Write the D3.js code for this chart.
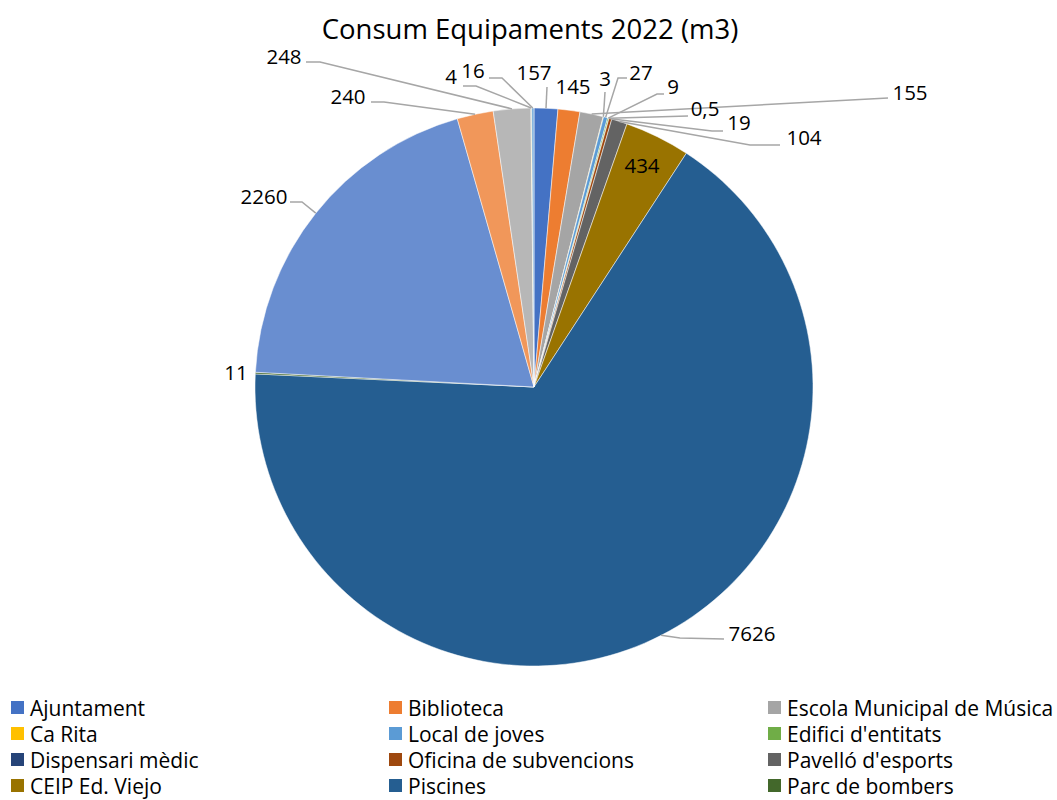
<!DOCTYPE html>
<html><head><meta charset="utf-8">
<script src="https://cdn.jsdelivr.net/npm/d3@7"></script>
<style>body{margin:0;background:#fff}svg{display:block}text{font-family:"Open Sans",sans-serif;fill:#000}</style>
</head><body><svg id="c" width="1057" height="800"></svg>
<script>
const title = "Consum Equipaments 2022 (m3)";
const categories = ["Ajuntament","Biblioteca","Escola Municipal de Música","Ca Rita","Local de joves","Edifici d'entitats","Dispensari mèdic","Oficina de subvencions","Pavelló d'esports","CEIP Ed. Viejo","Piscines","Parc de bombers","Equipament 13","Equipament 14","Equipament 15","Equipament 16","Equipament 17"];
const values = [157,145,155,3,27,9,0.5,19,104,434,7626,11,2260,240,248,4,16];
const colors = ["#4472C4","#ED7D31","#A5A5A5","#FFC000","#5B9BD5","#70AD47","#264478","#9E480E","#636363","#997300","#255E91","#43682B","#698ED0","#F1975A","#B7B7B7","#FFCD33","#7CAFDD"];
// label layout (text centre) and leader anchor/elbow, separate from data
const labelPos = [[534,72],[573,86],[910,92],[605,78],[641,72],[673,86],[705,108],[739,122],[804,137],[642,165],[752,633],[236,372],[264,196],[348,96],[284,56],[451,76],[473,70]];
const leaders = [[547,87,547,87],null,[888,98,888,98],[605,92,605,92],[627,78,618,78],[664,94,657,94],[688,116,688,116],[723,131,712,131],[780,145,750,145],null,[724,639,680,638],null,[290,202,302,202],[371,102,384,102],[306,62,320,62],[463,86,476,86],[489,78,502,78]];

const W = 1057, H = 800;
const svg = d3.select("#c");
const cx = 534, cy = 387, R = 279;
const fmt = d3.formatLocale({decimal:",",thousands:"",grouping:[3],currency:["",""]}).format("~g");

svg.append("text").attr("x",530).attr("y",39).attr("text-anchor","middle").attr("font-size",27.5).text(title);

const pie = d3.pie().sort(null).value(d=>d)(values);
const arc = d3.arc().innerRadius(0).outerRadius(R);
const g = svg.append("g").attr("transform",`translate(${cx},${cy})`);
g.selectAll("path").data(pie).join("path").attr("d",arc).attr("fill",(d,i)=>colors[i]).attr("stroke","#fff").attr("stroke-width",0.5);

// leaders
const lg = svg.append("g");
pie.forEach((d,i)=>{
  const L = leaders[i]; if(!L) return;
  const a = (d.startAngle+d.endAngle)/2;
  const ex = cx + R*Math.sin(a), ey = cy - R*Math.cos(a);
  lg.append("polyline").attr("points",`${L[0]},${L[1]} ${L[2]},${L[3]} ${ex},${ey}`)
    .attr("fill","none").attr("stroke","#A6A6A6").attr("stroke-width",1.5);
});
svg.append("g").selectAll("text").data(pie).join("text")
  .attr("x",(d,i)=>labelPos[i][0]).attr("y",(d,i)=>labelPos[i][1]+7.5)
  .attr("text-anchor","middle").attr("font-size",20.5).text(d=>fmt(d.data));

// legend (rows that start beyond the canvas are not drawn)
const colX = [11,389,768];
const lgd = svg.append("g");
categories.forEach((c,i)=>{
  const col = i%3, row = Math.floor(i/3);
  const y = 708 + row*26;
  if (y - 7 > H) return;
  lgd.append("rect").attr("x",colX[col]).attr("y",y-7).attr("width",13).attr("height",13).attr("fill",colors[i]);
  lgd.append("text").attr("x",colX[col]+19).attr("y",y+8).attr("font-size",21).text(c);
});
</script></body></html>
